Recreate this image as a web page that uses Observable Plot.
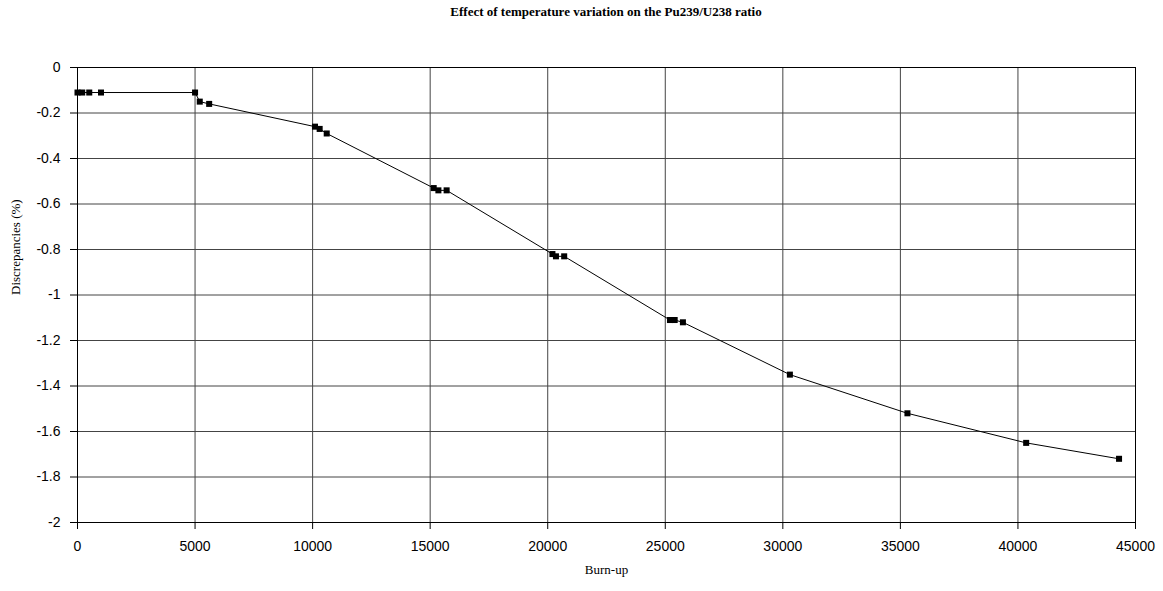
<!DOCTYPE html>
<html><head><meta charset="utf-8">
<script src="https://cdn.jsdelivr.net/npm/d3@7"></script>
<script src="https://cdn.jsdelivr.net/npm/@observablehq/plot@0.6"></script>
<style>
body{margin:0;background:#fff;}
#title{height:30px;box-sizing:border-box;padding-left:77px;padding-right:28px;text-align:center;font:bold 13px "Liberation Serif";line-height:24px;color:#000;}
</style></head><body>
<div id="title">Effect of temperature variation on the Pu239/U238 ratio</div>
<div id="chart"></div>
<script>
const burnup = [0, 200, 500, 1000, 5000, 5200, 5600, 10100, 10300, 10600, 15150, 15350, 15700, 20200, 20350, 20700, 25200, 25400, 25750, 30300, 35300, 40350, 44300];
const discrepancy = [-0.11, -0.11, -0.11, -0.11, -0.11, -0.15, -0.16, -0.26, -0.27, -0.29, -0.53, -0.54, -0.54, -0.82, -0.83, -0.83, -1.11, -1.11, -1.12, -1.35, -1.52, -1.65, -1.72];
const xTicks = [0, 5000, 10000, 15000, 20000, 25000, 30000, 35000, 40000, 45000];
const yTicks = [0, -0.2, -0.4, -0.6, -0.8, -1, -1.2, -1.4, -1.6, -1.8, -2];
const xLabel = "Burn-up";
const yLabel = "Discrepancies (%)";

const data = burnup.map((b, i) => ({x: b, y: discrepancy[i]}));

const chart = Plot.plot({
  width: 1163, height: 561,
  marginLeft: 77, marginRight: 28, marginTop: 37, marginBottom: 69,
  x: {domain: [0, 45000]},
  y: {domain: [-2, 0]},
  style: {fontFamily: "Liberation Sans", fontSize: "14px", color: "black", background: "white"},
  marks: [
    Plot.gridX(xTicks, {stroke: "#444", strokeOpacity: 1}),
    Plot.gridY(yTicks, {stroke: "#444", strokeOpacity: 1}),
    Plot.frame({stroke: "black"}),
    Plot.axisX(xTicks, {tickSize: 7, tickPadding: 12, tickFormat: d => String(d), label: null}),
    Plot.axisY(yTicks, {tickSize: 7, tickPadding: 10, tickFormat: d => String(+d.toFixed(1)), label: null}),
    Plot.line(data, {x: "x", y: "y", stroke: "black", strokeWidth: 1}),
    Plot.dot(data, {x: "x", y: "y", symbol: "square", fill: "black", r: 3.4}),
    Plot.text([yLabel], {text: d => d, frameAnchor: "left", rotate: -90, dx: -62, fontFamily: "Liberation Serif", fontSize: 13}),
    Plot.text([xLabel], {text: d => d, frameAnchor: "bottom", dy: 51, fontFamily: "Liberation Serif", fontSize: 13})
  ]
});
document.getElementById("chart").appendChild(chart);
</script>
</body></html>
